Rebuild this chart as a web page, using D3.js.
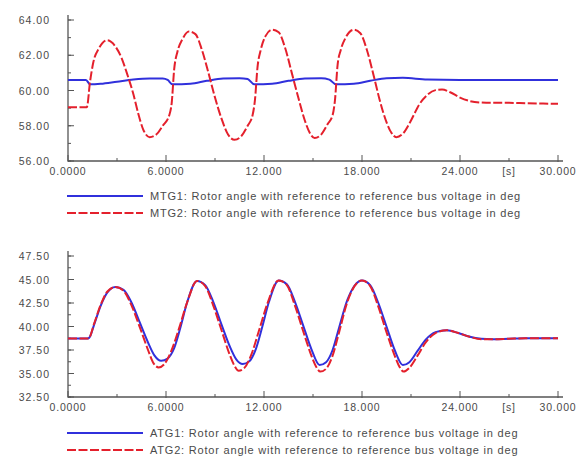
<!DOCTYPE html>
<html><head><meta charset="utf-8">
<script src="https://cdn.jsdelivr.net/npm/d3@7"></script>
<style>body{margin:0;background:#fff}svg{display:block}</style>
</head><body>
<svg id="c" width="580" height="457"></svg>
<script>
// ---- data ----
const xTicks = [0, 6, 12, 18, 24, 30];
const xTickLabels = ["0.0000", "6.0000", "12.000", "18.000", "24.000", "30.000"];
const xMinorTicks = [3, 9, 15, 21, 27];
const unitLabel = "[s]";
const topYTicks = [56, 58, 60, 62, 64];
const topYLabels = ["56.00", "58.00", "60.00", "62.00", "64.00"];
const botYTicks = [32.5, 35, 37.5, 40, 42.5, 45, 47.5];
const botYLabels = ["32.50", "35.00", "37.50", "40.00", "42.50", "45.00", "47.50"];

const mtg1T = [0, 1.1, 1.35, 2, 3, 4, 5, 5.8, 6.1, 6.4, 7.5, 8.5, 9.5, 10.5, 11.0, 11.4, 12.5, 13.5, 14.5, 15.5, 16.0, 16.4, 17.5, 18.5, 19.5, 20.5, 22, 24, 30];
const mtg1V = [60.6, 60.6, 60.35, 60.38, 60.5, 60.62, 60.68, 60.68, 60.6, 60.35, 60.38, 60.55, 60.68, 60.7, 60.65, 60.35, 60.38, 60.55, 60.68, 60.7, 60.62, 60.35, 60.38, 60.55, 60.7, 60.72, 60.62, 60.6, 60.6];

const mtg2T = [0, 1.15, 1.35, 1.55, 1.9, 2.4, 2.9, 3.3, 3.6, 4.0, 4.3, 4.6, 5.0, 5.4, 5.8, 6.2, 6.35, 6.5, 6.7, 7.0, 7.4, 7.8, 8.2, 8.6, 9.0, 9.4, 9.8, 10.2, 10.6, 11.0, 11.3, 11.45, 11.6, 11.8, 12.1, 12.5, 12.9, 13.3, 13.7, 14.1, 14.5, 14.8, 15.1, 15.5, 15.9, 16.2, 16.35, 16.5, 16.7, 17.0, 17.5, 17.9, 18.3, 18.7, 19.1, 19.5, 19.8, 20.1, 20.5, 21.0, 21.5, 22.0, 22.5, 22.9, 23.4, 24.0, 24.6, 25.2, 26, 27, 28, 29, 30];
const mtg2V = [59.05, 59.05, 60.5, 61.6, 62.4, 62.85, 62.5, 61.8, 61.0, 59.8, 58.7, 57.8, 57.35, 57.5, 58.0, 58.6, 59.3, 61.2, 62.2, 62.9, 63.35, 63.2, 62.3, 61.0, 59.6, 58.4, 57.5, 57.2, 57.4, 58.0, 58.6, 59.5, 61.3, 62.3, 63.1, 63.45, 63.3, 62.4, 61.0, 59.6, 58.3, 57.6, 57.3, 57.5, 58.1, 58.6, 59.5, 61.4, 62.3, 63.0, 63.45, 63.25, 62.3, 60.9, 59.4, 58.2, 57.6, 57.35, 57.55, 58.3, 59.2, 59.75, 60.02, 60.06, 59.9, 59.6, 59.4, 59.32, 59.3, 59.3, 59.28, 59.26, 59.25];

const atg1T = [0, 1.2, 1.3, 1.6, 2.0, 2.4, 2.9, 3.4, 3.9, 4.4, 4.9, 5.3, 5.7, 6.1, 6.5, 6.9, 7.3, 7.9, 8.4, 8.9, 9.4, 9.9, 10.3, 10.7, 11.1, 11.5, 11.9, 12.3, 12.9, 13.4, 13.9, 14.4, 14.9, 15.4, 15.8, 16.2, 16.6, 17.1, 18.0, 18.5, 19.0, 19.5, 20.0, 20.5, 20.9, 21.4, 21.9, 22.5, 23.2, 23.9, 24.6, 25.3, 26, 27, 28, 30];
const atg1V = [38.72, 38.72, 38.8, 40.2, 42.2, 43.6, 44.2, 43.9, 42.5, 40.4, 38.3, 36.9, 36.35, 36.6, 37.7, 40.0, 42.6, 44.85, 44.4, 42.6, 40.2, 37.9, 36.5, 36.0, 36.3, 37.6, 40.0, 42.6, 44.9, 44.5, 42.6, 40.1, 37.6, 35.9, 36.2, 37.5, 39.9, 42.8, 44.9, 44.4, 42.5, 40.0, 37.5, 35.9, 36.2, 37.4, 38.6, 39.4, 39.6, 39.3, 38.9, 38.7, 38.65, 38.7, 38.75, 38.75];

const atg2T = [0, 1.2, 1.3, 1.6, 2.0, 2.4, 2.9, 3.4, 3.9, 4.4, 4.9, 5.2, 5.55, 5.9, 6.3, 6.8, 7.3, 7.9, 8.4, 8.9, 9.4, 9.9, 10.2, 10.45, 10.8, 11.2, 11.7, 12.2, 12.9, 13.4, 13.9, 14.4, 14.9, 15.2, 15.45, 15.8, 16.2, 16.6, 17.1, 18.0, 18.5, 19.0, 19.5, 20.0, 20.3, 20.55, 20.9, 21.4, 21.9, 22.5, 23.2, 23.9, 24.6, 25.3, 26, 27, 28, 30];
const atg2V = [38.72, 38.72, 38.8, 40.3, 42.3, 43.7, 44.2, 43.8, 42.2, 39.9, 37.5, 36.2, 35.65, 36.0, 37.3, 39.8, 42.6, 44.85, 44.3, 42.2, 39.6, 37.0, 35.8, 35.3, 35.6, 36.9, 39.6, 42.4, 44.9, 44.4, 42.2, 39.5, 36.9, 35.7, 35.2, 35.5, 36.9, 39.4, 42.6, 44.9, 44.3, 42.1, 39.4, 36.9, 35.7, 35.2, 35.6, 36.9, 38.3, 39.3, 39.6, 39.3, 38.9, 38.65, 38.65, 38.7, 38.75, 38.75];

const topLegend = ["MTG1: Rotor angle with reference to reference bus voltage in deg", "MTG2: Rotor angle with reference to reference bus voltage in deg"];
const botLegend = ["ATG1: Rotor angle with reference to reference bus voltage in deg", "ATG2: Rotor angle with reference to reference bus voltage in deg"];

// ---- style ----
const BLUE = "#3030dc", RED = "#e4202c", AXIS = "#555", TXT = "#4a4a4a";
const FONT = "'Liberation Sans', Arial, sans-serif";
const svg = d3.select("#c");

const x = d3.scaleLinear().domain([0, 30]).range([68, 558]);

function panel(opts) {
  const y = d3.scaleLinear().domain(opts.yDomain).range([opts.yBottom, opts.yTop]);
  const g = svg.append("g");
  g.append("line").attr("x1", x(0)).attr("x2", x(30) + 5).attr("y1", opts.yBottom).attr("y2", opts.yBottom)
    .attr("stroke", AXIS).attr("stroke-width", 1.3);
  g.append("line").attr("x1", x(0)).attr("x2", x(0)).attr("y1", opts.yBottom).attr("y2", opts.yTop - 5)
    .attr("stroke", AXIS).attr("stroke-width", 1.3);
  g.selectAll(".xt").data(xTicks).join("line").attr("x1", d => x(d)).attr("x2", d => x(d))
    .attr("y1", opts.yBottom + 1).attr("y2", opts.yBottom - 6).attr("stroke", AXIS).attr("stroke-width", 1);
  g.selectAll(".xm").data(xMinorTicks).join("line").attr("x1", d => x(d)).attr("x2", d => x(d))
    .attr("y1", opts.yBottom).attr("y2", opts.yBottom - 3).attr("stroke", AXIS).attr("stroke-width", 1);
  g.selectAll(".xl").data(xTicks).join("text").attr("x", d => x(d)).attr("y", opts.yBottom + 14)
    .attr("text-anchor", "middle").attr("font-family", FONT).attr("font-size", 10.5).attr("letter-spacing", 0.8)
    .attr("fill", TXT).text((d, i) => xTickLabels[i]);
  g.append("text").attr("x", x(27)).attr("y", opts.yBottom + 14).attr("text-anchor", "middle")
    .attr("font-family", FONT).attr("font-size", 10.5).attr("letter-spacing", 0.8).attr("fill", TXT).text(unitLabel);
  const minor = d3.range(opts.yDomain[0], opts.yDomain[1] + 1e-9, opts.minorStep);
  g.selectAll(".ym").data(minor).join("line").attr("x1", x(0)).attr("x2", x(0) + 3)
    .attr("y1", d => y(d)).attr("y2", d => y(d)).attr("stroke", AXIS).attr("stroke-width", 1);
  g.selectAll(".yt").data(opts.yTicks).join("line").attr("x1", x(0)).attr("x2", x(0) + 6)
    .attr("y1", d => y(d)).attr("y2", d => y(d)).attr("stroke", AXIS).attr("stroke-width", 1);
  g.selectAll(".yl").data(opts.yTicks).join("text").attr("x", 50).attr("y", d => y(d) + 4)
    .attr("text-anchor", "end").attr("font-family", FONT).attr("font-size", 10.5).attr("letter-spacing", 1)
    .attr("fill", TXT).text((d, i) => opts.yLabels[i]);
  const line = d3.line().x(d => x(d[0])).y(d => y(d[1])).curve(d3.curveMonotoneX);
  g.append("path").datum(opts.t1.map((t, i) => [t, opts.v1[i]])).attr("d", line)
    .attr("fill", "none").attr("stroke", BLUE).attr("stroke-width", 2);
  g.append("path").datum(opts.t2.map((t, i) => [t, opts.v2[i]])).attr("d", line)
    .attr("fill", "none").attr("stroke", RED).attr("stroke-width", 2).attr("stroke-dasharray", "9,2.5");
  [0, 1].forEach(i => {
    const ly = opts.legendY + i * 17;
    g.append("line").attr("x1", 67).attr("x2", 143).attr("y1", ly).attr("y2", ly)
      .attr("stroke", i ? RED : BLUE).attr("stroke-width", 2).attr("stroke-dasharray", i ? "9,2.5" : null);
    g.append("text").attr("x", 150).attr("y", ly + 4).attr("font-family", FONT).attr("font-size", 11)
      .attr("letter-spacing", 0.8).attr("fill", TXT).text(opts.legend[i]);
  });
}

panel({yDomain: [56, 64], yTop: 20, yBottom: 161, yTicks: topYTicks, yLabels: topYLabels, minorStep: 1,
  t1: mtg1T, v1: mtg1V, t2: mtg2T, v2: mtg2V, legend: topLegend, legendY: 196});
panel({yDomain: [32.5, 47.5], yTop: 256, yBottom: 397, yTicks: botYTicks, yLabels: botYLabels, minorStep: 1.25,
  t1: atg1T, v1: atg1V, t2: atg2T, v2: atg2V, legend: botLegend, legendY: 433});
</script>
</body></html>
